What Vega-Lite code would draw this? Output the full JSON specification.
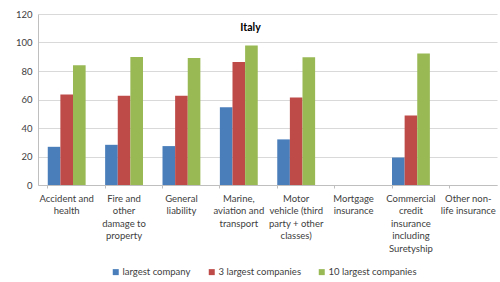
{
  "$schema": "https://vega.github.io/schema/vega-lite/v6.json",
  "autosize": {"type": "none"},
  "width": 459,
  "height": 171,
  "padding": {"left": 38, "top": 14, "right": 3, "bottom": 97},
  "background": "white",
  "config": {
    "font": "Lato",
    "view": {"stroke": null},
    "axis": {"labelFont": "Lato", "labelColor": "#404040", "labelFontSize": 9.5}
  },
  "title": {
    "text": "Italy",
    "fontSize": 10.5,
    "fontWeight": "bold",
    "color": "#000000",
    "anchor": "middle",
    "offset": -24,
    "dx": -17
  },
  "data": {
    "values": [
      {"category": "Accident and health", "series": "largest company", "value": 26.8},
      {"category": "Accident and health", "series": "3 largest companies", "value": 63.5},
      {"category": "Accident and health", "series": "10 largest companies", "value": 84},
      {"category": "Fire and other damage to property", "series": "largest company", "value": 28.2},
      {"category": "Fire and other damage to property", "series": "3 largest companies", "value": 62.6},
      {"category": "Fire and other damage to property", "series": "10 largest companies", "value": 89.9},
      {"category": "General liability", "series": "largest company", "value": 27.3},
      {"category": "General liability", "series": "3 largest companies", "value": 62.6},
      {"category": "General liability", "series": "10 largest companies", "value": 89.2},
      {"category": "Marine, aviation and transport", "series": "largest company", "value": 54.6},
      {"category": "Marine, aviation and transport", "series": "3 largest companies", "value": 86.4},
      {"category": "Marine, aviation and transport", "series": "10 largest companies", "value": 97.9},
      {"category": "Motor vehicle (third party + other classes)", "series": "largest company", "value": 32},
      {"category": "Motor vehicle (third party + other classes)", "series": "3 largest companies", "value": 61.4},
      {"category": "Motor vehicle (third party + other classes)", "series": "10 largest companies", "value": 89.7},
      {"category": "Commercial credit insurance including Suretyship", "series": "largest company", "value": 19.3},
      {"category": "Commercial credit insurance including Suretyship", "series": "3 largest companies", "value": 48.7},
      {"category": "Commercial credit insurance including Suretyship", "series": "10 largest companies", "value": 92.2}
    ]
  },
  "mark": {"type": "bar"},
  "encoding": {
    "x": {
      "field": "category",
      "type": "nominal",
      "sort": null,
      "scale": {
        "domain": [
          "Accident and health",
          "Fire and other damage to property",
          "General liability",
          "Marine, aviation and transport",
          "Motor vehicle (third party + other classes)",
          "Mortgage insurance",
          "Commercial credit insurance including Suretyship",
          "Other non-life insurance"
        ],
        "paddingInner": 0.34,
        "paddingOuter": 0.17
      },
      "axis": {
        "title": null,
        "labelAngle": 0,
        "labelAlign": "center",
        "labelBaseline": "top",
        "labelPadding": 5,
        "labelLineHeight": 12.5,
        "labelExpr": "{'Accident and health': ['Accident and', 'health'], 'Fire and other damage to property': ['Fire and', 'other', 'damage to', 'property'], 'General liability': ['General', 'liability'], 'Marine, aviation and transport': ['Marine,', 'aviation and', 'transport'], 'Motor vehicle (third party + other classes)': ['Motor', 'vehicle (third', 'party + other', 'classes)'], 'Mortgage insurance': ['Mortgage', 'insurance'], 'Commercial credit insurance including Suretyship': ['Commercial', 'credit', 'insurance', 'including', 'Suretyship'], 'Other non-life insurance': ['Other non-', 'life insurance']}[datum.label]",
        "bandPosition": 0,
        "ticks": true,
        "tickSize": 3,
        "tickColor": "#bfbfbf",
        "domainColor": "#bfbfbf",
        "grid": false
      }
    },
    "xOffset": {
      "field": "series",
      "type": "nominal",
      "sort": ["largest company", "3 largest companies", "10 largest companies"],
      "scale": {"paddingInner": 0, "paddingOuter": 0}
    },
    "y": {
      "field": "value",
      "type": "quantitative",
      "scale": {"domain": [0, 120], "nice": false},
      "axis": {
        "title": null,
        "values": [0, 20, 40, 60, 80, 100, 120],
        "ticks": false,
        "labelPadding": 6,
        "gridColor": "#d9d9d9",
        "domainColor": "#bfbfbf"
      }
    },
    "color": {
      "field": "series",
      "type": "nominal",
      "sort": ["largest company", "3 largest companies", "10 largest companies"],
      "scale": {
        "domain": ["largest company", "3 largest companies", "10 largest companies"],
        "range": ["#4a7ebb", "#be4b48", "#98b954"]
      },
      "legend": {
        "title": null,
        "orient": "none",
        "direction": "horizontal",
        "legendX": 73,
        "legendY": 253,
        "symbolType": "square",
        "symbolSize": 36,
        "symbolStrokeWidth": 0,
        "labelFontSize": 9.5,
        "labelColor": "#404040",
        "labelFont": "Lato",
        "labelOffset": 2,
        "columnPadding": 16
      }
    }
  }
}
